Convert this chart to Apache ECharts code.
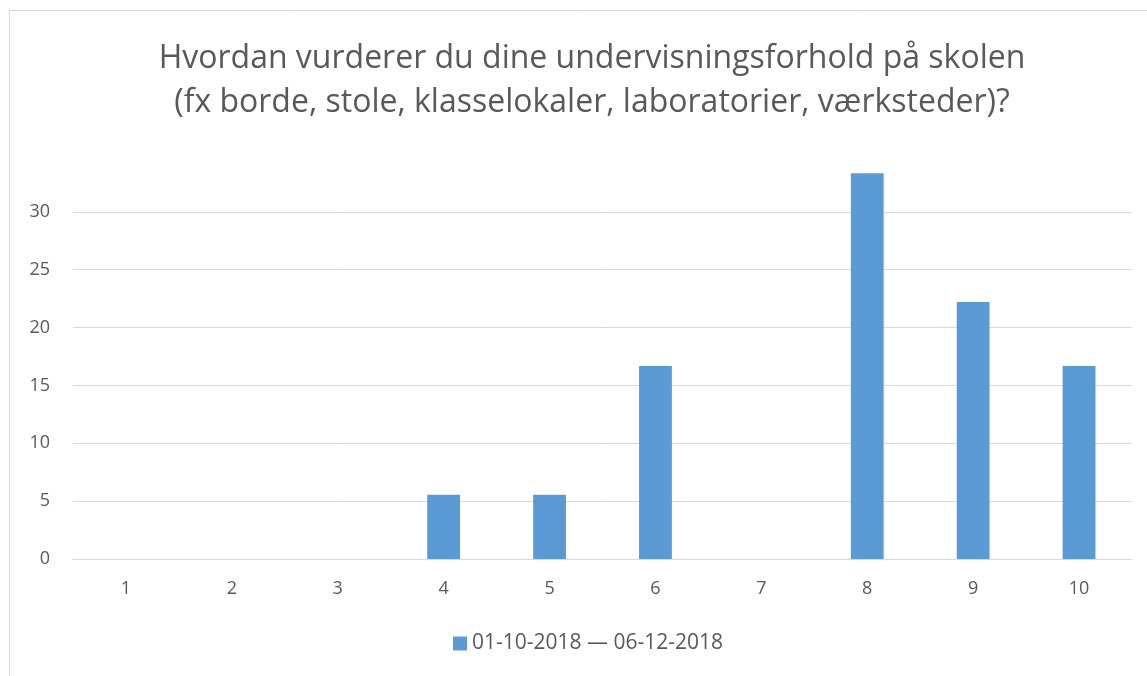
<!DOCTYPE html>
<html>
<head>
<meta charset="utf-8">
<script src="https://cdn.jsdelivr.net/npm/echarts@6/dist/echarts.min.js"></script>
<style>
html, body { margin: 0; padding: 0; background: #fff; }
#chart { width: 1147px; height: 676px; }
</style>
</head>
<body>
<div id="chart"></div>
<script>
var categories = ['1', '2', '3', '4', '5', '6', '7', '8', '9', '10'];
var seriesName = '01-10-2018 \u2014 06-12-2018';
var values = [0, 0, 0, 5.56, 5.56, 16.67, 0, 33.33, 22.22, 16.67];
var yTicks = [0, 5, 10, 15, 20, 25, 30];

var myChart = echarts.init(document.getElementById('chart'));
var option = {
	backgroundColor: '#fff',
	textStyle: { fontFamily: 'Open Sans' },
	title: {
		text: 'Hvordan vurderer du dine undervisningsforhold på skolen\n(fx borde, stole, klasselokaler, laboratorier, værksteder)?',
		left: 587,
		textAlign: 'center',
		top: 32,
		textStyle: {
			fontFamily: 'Open Sans',
			fontSize: 32,
			fontWeight: 'normal',
			color: '#595959',
			lineHeight: 44
		}
	},
	graphic: [{
		type: 'rect',
		shape: { x: 9.5, y: 10.5, width: 1200, height: 700 },
		style: { fill: 'none', stroke: '#D9D9D9', lineWidth: 1 },
		silent: true
	}],
	legend: {
		bottom: 17,
		left: 448,
		itemWidth: 14,
		itemHeight: 14,
		itemGap: 6,
		icon: 'rect',
		textStyle: { color: '#595959', fontSize: 21, fontFamily: 'Open Sans' },
		data: [seriesName]
	},
	grid: { left: 73, right: 15, top: 154, bottom: 117, containLabel: false },
	xAxis: {
		type: 'category',
		data: categories,
		axisLine: { lineStyle: { color: '#D9D9D9' } },
		axisTick: { show: false },
		axisLabel: { color: '#595959', fontSize: 18, margin: 21 }
	},
	yAxis: {
		type: 'value',
		min: 0,
		max: 35,
		interval: 5,
		axisLine: { show: false },
		axisTick: { show: false, customValues: yTicks },
		axisLabel: { color: '#595959', fontSize: 18, margin: 23, customValues: yTicks },
		splitLine: { lineStyle: { color: '#D9D9D9' }, customValues: yTicks }
	},
	series: [{
		name: seriesName,
		type: 'bar',
		data: values,
		barWidth: '31%',
		itemStyle: { color: '#5B9BD5' }
	}]
};
myChart.setOption(option);
</script>
</body>
</html>
